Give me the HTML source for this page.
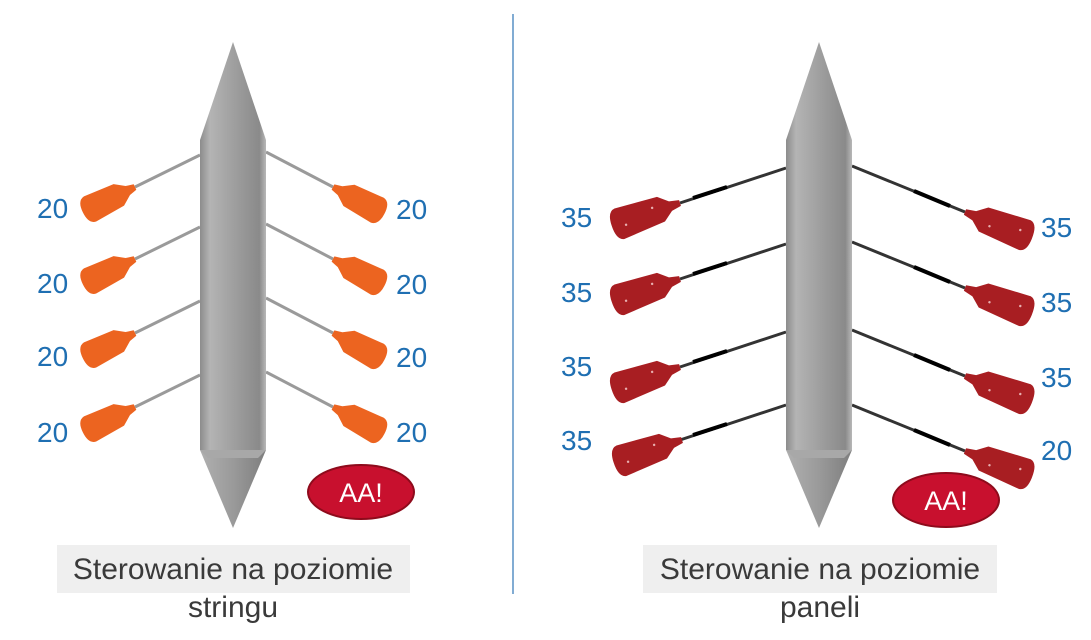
<!DOCTYPE html>
<html><head><meta charset="utf-8"><style>
html,body{margin:0;padding:0;background:#fff;}
svg{display:block;font-family:"Liberation Sans","DejaVu Sans",sans-serif;}
</style></head><body>
<svg width="1091" height="640" viewBox="0 0 1091 640" xmlns="http://www.w3.org/2000/svg">
<defs>
<linearGradient id="hg" x1="0" x2="1" y1="0" y2="0">
<stop offset="0" stop-color="#8c8c8c"/><stop offset="0.15" stop-color="#b4b4b4"/><stop offset="0.6" stop-color="#9a9a9a"/><stop offset="0.9" stop-color="#8a8a8a"/><stop offset="1" stop-color="#b8b8b8"/>
</linearGradient>
<linearGradient id="tg" x1="0" x2="1" y1="0" y2="0">
<stop offset="0" stop-color="#b0b0b0"/><stop offset="0.5" stop-color="#9a9a9a"/><stop offset="1" stop-color="#7e7e7e"/>
</linearGradient>
<g id="ob"><path d="M0,-3 L-8,-5 L-18,-12 L-50,-14 Q-58,-13 -58,0 Q-58,13 -50,14 L-18,12 L-8,5 L0,3 Z" fill="#ec6420"/></g>
<g id="rb"><path d="M0,-3 L-10,-5 L-20,-13 L-64,-15 Q-72,-14 -72,0 Q-72,16 -64,17 L-20,13 L-10,5 L0,3 Z" fill="#a81e22"/><circle cx="-28" cy="-4" r="1.2" fill="#e8b0b0"/><circle cx="-58" cy="4" r="1.2" fill="#e8b0b0"/></g>
</defs>

<line x1="513" y1="14" x2="513" y2="594" stroke="#2e75b6" stroke-width="1.2"/>

<g stroke="#9a9a9a" stroke-width="3">
<line x1="200" y1="155" x2="135" y2="187"/><line x1="200" y1="227" x2="135" y2="259"/><line x1="200" y1="301" x2="135" y2="333"/><line x1="200" y1="375" x2="135" y2="407"/>
<line x1="266" y1="152" x2="333" y2="187"/><line x1="266" y1="224" x2="333" y2="259"/><line x1="266" y1="298" x2="333" y2="333"/><line x1="266" y1="372" x2="333" y2="407"/>
</g>
<use href="#ob" transform="translate(135,187) rotate(-26)"/>
<use href="#ob" transform="translate(135,259) rotate(-26)"/>
<use href="#ob" transform="translate(135,333) rotate(-26)"/>
<use href="#ob" transform="translate(135,407) rotate(-26)"/>
<use href="#ob" transform="translate(333,187) rotate(207.6)"/>
<use href="#ob" transform="translate(333,259) rotate(207.6)"/>
<use href="#ob" transform="translate(333,333) rotate(207.6)"/>
<use href="#ob" transform="translate(333,407) rotate(207.6)"/>
<path d="M233,42 L266,140 L266,450 L200,450 L200,140 Z" fill="url(#hg)"/>
<path d="M200,450 L266,450 L233,528 Z" fill="url(#tg)"/>
<path d="M200,450 L266,450 L258,458 L208,458 Z" fill="#a8a8a8"/>

<g stroke="#333" stroke-width="3">
<line x1="786" y1="168" x2="680" y2="203"/><line x1="786" y1="244" x2="680" y2="279"/><line x1="786" y1="332" x2="680" y2="367"/><line x1="786" y1="405" x2="680" y2="440"/>
<line x1="852" y1="166" x2="965" y2="212"/><line x1="852" y1="242" x2="965" y2="288"/><line x1="852" y1="330" x2="965" y2="376"/><line x1="852" y1="405" x2="965" y2="451"/>
</g>
<g stroke="#000" stroke-width="4">
<line x1="727" y1="187" x2="693" y2="198"/><line x1="727" y1="263" x2="693" y2="274"/><line x1="727" y1="351" x2="693" y2="362"/><line x1="727" y1="424" x2="693" y2="435"/>
<line x1="914" y1="191" x2="950" y2="206"/><line x1="914" y1="267" x2="950" y2="282"/><line x1="914" y1="355" x2="950" y2="370"/><line x1="914" y1="430" x2="950" y2="445"/>
</g>
<use href="#rb" transform="translate(680,203) rotate(-18)"/>
<use href="#rb" transform="translate(680,279) rotate(-18)"/>
<use href="#rb" transform="translate(680,367) rotate(-18)"/>
<use href="#rb" transform="translate(682,440) rotate(-18)"/>
<use href="#rb" transform="translate(965,212) rotate(202)"/>
<use href="#rb" transform="translate(965,288) rotate(202)"/>
<use href="#rb" transform="translate(965,376) rotate(202)"/>
<use href="#rb" transform="translate(965,451) rotate(202)"/>
<path d="M819,42 L852,140 L852,450 L786,450 L786,140 Z" fill="url(#hg)"/>
<path d="M786,450 L852,450 L819,528 Z" fill="url(#tg)"/>
<path d="M786,450 L852,450 L844,458 L794,458 Z" fill="#a8a8a8"/>

<g fill="#1f6fb2" font-size="28">
<text x="37" y="218">20</text><text x="37" y="293">20</text><text x="37" y="366">20</text><text x="37" y="442">20</text>
<text x="396" y="219">20</text><text x="396" y="294">20</text><text x="396" y="367">20</text><text x="396" y="442">20</text>
<text x="561" y="227">35</text><text x="561" y="302">35</text><text x="561" y="376">35</text><text x="561" y="450">35</text>
<text x="1041" y="237">35</text><text x="1041" y="312">35</text><text x="1041" y="387">35</text><text x="1041" y="460">20</text>
</g>

<ellipse cx="361" cy="492" rx="53" ry="27" fill="#c8102e" stroke="#8e0b1c" stroke-width="2"/>
<text x="361" y="502" fill="#fff" font-size="27" text-anchor="middle">AA!</text>
<ellipse cx="946" cy="500" rx="53" ry="27" fill="#c8102e" stroke="#8e0b1c" stroke-width="2"/>
<text x="946" y="510" fill="#fff" font-size="27" text-anchor="middle">AA!</text>

<rect x="57" y="545" width="353" height="48" fill="#efefef"/>
<text x="233" y="579" fill="#3a3a3a" font-size="30" text-anchor="middle">Sterowanie na poziomie</text>
<text x="233" y="617" fill="#3a3a3a" font-size="30" text-anchor="middle">stringu</text>
<rect x="643" y="545" width="354" height="48" fill="#efefef"/>
<text x="820" y="579" fill="#3a3a3a" font-size="30" text-anchor="middle">Sterowanie na poziomie</text>
<text x="820" y="617" fill="#3a3a3a" font-size="30" text-anchor="middle">paneli</text>
</svg>
</body></html>
